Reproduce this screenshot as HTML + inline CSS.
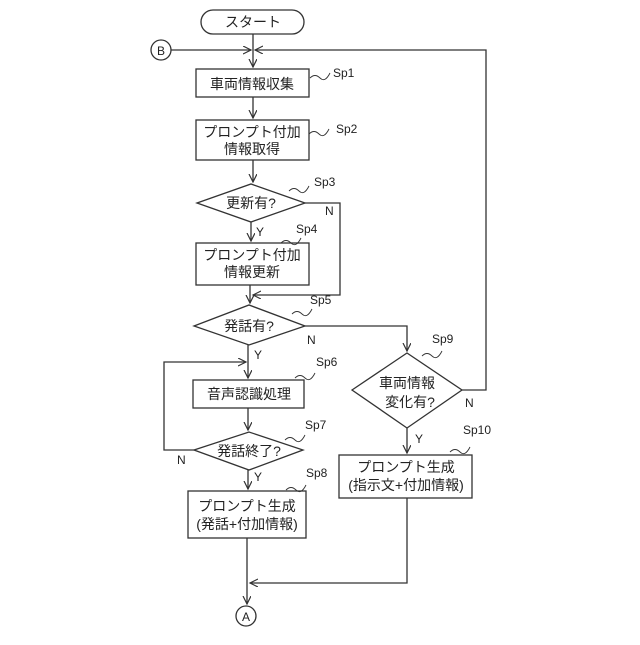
<!DOCTYPE html>
<html><head><meta charset="utf-8"><style>body{margin:0;background:#fff}</style></head><body>
<svg width="640" height="640" viewBox="0 0 640 640" xmlns="http://www.w3.org/2000/svg" font-family="Liberation Sans, Noto Sans CJK JP, sans-serif" fill="none" stroke="#333" stroke-width="1.3">
<defs><marker id="a" markerWidth="10" markerHeight="10" refX="8" refY="4" orient="auto" markerUnits="userSpaceOnUse"><path d="M0,0 L8,4 L0,8" fill="none" stroke="#333" stroke-width="1.2"/></marker></defs>
<g font-size="14" fill="#222" stroke="none" text-anchor="middle">
<text x="253" y="27">スタート</text>
<text x="161" y="55" font-size="12">B</text>
<text x="252" y="89">車両情報収集</text>
<text x="252" y="137">プロンプト付加</text><text x="252" y="154">情報取得</text>
<text x="251" y="208">更新有?</text>
<text x="252" y="260">プロンプト付加</text><text x="252" y="277">情報更新</text>
<text x="249" y="331">発話有?</text>
<text x="249" y="399">音声認識処理</text>
<text x="249" y="456">発話終了?</text>
<text x="247" y="511">プロンプト生成</text><text x="247" y="529">(発話+付加情報)</text>
<text x="407" y="388">車両情報</text><text x="410" y="407">変化有?</text>
<text x="406" y="472">プロンプト生成</text><text x="406" y="490">(指示文+付加情報)</text>
<text x="246" y="621" font-size="12">A</text>
<g font-size="12" text-anchor="start">
<text x="333" y="77">Sp1</text><text x="336" y="133">Sp2</text><text x="314" y="186">Sp3</text>
<text x="296" y="233">Sp4</text><text x="310" y="304">Sp5</text><text x="316" y="366">Sp6</text>
<text x="305" y="429">Sp7</text><text x="306" y="477">Sp8</text><text x="432" y="343">Sp9</text>
<text x="463" y="434">Sp10</text>
<text x="325" y="215">N</text><text x="256" y="236">Y</text>
<text x="307" y="344">N</text><text x="254" y="359">Y</text>
<text x="177" y="464">N</text><text x="254" y="481">Y</text>
<text x="465" y="407">N</text><text x="415" y="443">Y</text>
</g></g>
<rect x="201" y="10" width="103" height="24" rx="12"/>
<circle cx="161" cy="50" r="10"/>
<circle cx="246" cy="616" r="10"/>
<rect x="196" y="69" width="113" height="28"/>
<rect x="196" y="120" width="113" height="40"/>
<polygon points="197,203 251,184 305,203 251,222"/>
<rect x="196" y="243" width="113" height="42"/>
<polygon points="194,326 249,305 305,326 249,345"/>
<rect x="193" y="380" width="111" height="28"/>
<polygon points="194,450 249,432 303,450 249,470"/>
<rect x="188" y="491" width="118" height="47"/>
<polygon points="352,390 407,353 462,390 407,428"/>
<rect x="339" y="455" width="133" height="43"/>
<path d="M253,34 V67" marker-end="url(#a)"/>
<path d="M171,50 H251" marker-end="url(#a)"/>
<path d="M462,390 H486 V50 H255" marker-end="url(#a)"/>
<path d="M253,97 V118" marker-end="url(#a)"/>
<path d="M253,160 V182" marker-end="url(#a)"/>
<path d="M251,222 V241" marker-end="url(#a)"/>
<path d="M305,203 H340 V295 H253" marker-end="url(#a)"/>
<path d="M250,285 V303" marker-end="url(#a)"/>
<path d="M305,326 H407 V351" marker-end="url(#a)"/>
<path d="M248,345 V378" marker-end="url(#a)"/>
<path d="M194,450 H164 V362 H246" marker-end="url(#a)"/>
<path d="M248,408 V430" marker-end="url(#a)"/>
<path d="M248,470 V489" marker-end="url(#a)"/>
<path d="M407,428 V453" marker-end="url(#a)"/>
<path d="M407,498 V583 H250" marker-end="url(#a)"/>
<path d="M247,538 V604" marker-end="url(#a)"/>
<g stroke-width="0.9">
<path d="M310,78 q5,-5 10,0 t10,-5"/><path d="M309,134 q5,-5 10,0 t10,-5"/>
<path d="M289,191 q5,-5 10,0 t10,-5"/><path d="M281,243 q5,-5 10,0 t10,-5"/>
<path d="M292,314 q5,-5 10,0 t10,-5"/><path d="M295,378 q5,-5 10,0 t10,-5"/>
<path d="M285,440 q5,-5 10,0 t10,-5"/><path d="M286,490 q5,-5 10,0 t10,-5"/>
<path d="M422,356 q5,-5 10,0 t10,-5"/><path d="M450,452 q5,-5 10,0 t10,-5"/>
</g>
</svg>
</body></html>
